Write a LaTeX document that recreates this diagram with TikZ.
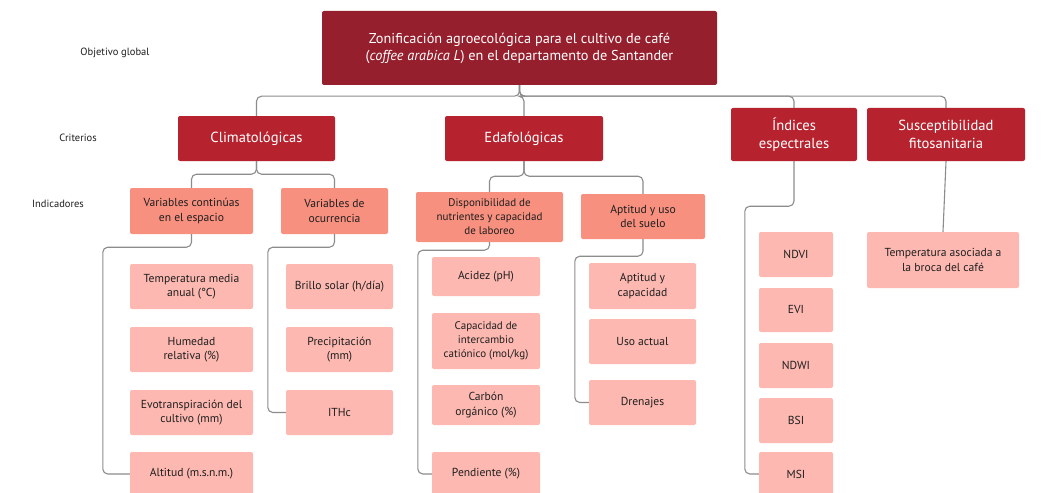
\documentclass[tikz,border=0pt]{standalone}
\usepackage{fontspec}
\setmainfont{PT Sans}
\definecolor{topred}{HTML}{961F2D}
\definecolor{crit}{HTML}{B6232F}
\definecolor{indc}{HTML}{F8907F}
\definecolor{leafc}{HTML}{FDB9B1}
\definecolor{linec}{HTML}{8C8C8C}
\definecolor{txt}{HTML}{1E1E1E}
\begin{document}
\begin{tikzpicture}[x=1pt,y=-1pt,
  every node/.style={inner sep=0pt, align=center},
  topbox/.style={fill=topred, rounded corners=2pt, text=white, font=\fontsize{14.3}{17}\selectfont},
  critbox/.style={fill=crit, rounded corners=2pt, text=white, font=\fontsize{14.6}{18}\selectfont},
  indbox/.style={fill=indc, rounded corners=2pt, text=txt, font=\fontsize{11.6}{14.5}\selectfont},
  leafbox/.style={fill=leafc, rounded corners=2pt, text=txt, font=\fontsize{11.6}{14.5}\selectfont},
  lvl/.style={text=txt, font=\fontsize{10.5}{12}\selectfont},
  conn/.style={draw=linec, line width=1.1pt, rounded corners=5pt}]
\clip (0,0) rectangle (1048,492);
\fill[white] (0,0) rectangle (1048,492);

% level labels
\node[lvl] (l1) at (115,53) {Objetivo global};
\node[lvl] (l2) at (78,138) {Criterios};
\node[lvl] (l3) at (58,204) {Indicadores};

% top
\node[topbox, minimum width=395, minimum height=74] (top) at (519.5,48)
 {Zonificación agroecológica para el cultivo de café\\(\textit{coffee arabica L}) en el departamento de Santander};

% criteria
\node[critbox, minimum width=157, minimum height=45] (clim) at (256.5,138.5) {Climatológicas};
\node[critbox, minimum width=158, minimum height=45] (edaf) at (524,138.5) {Edafológicas};
\node[critbox, minimum width=126, minimum height=53] (ind) at (794,134.5) {Índices\\espectrales};
\node[critbox, minimum width=158, minimum height=53] (susc) at (946,134.5) {Susceptibilidad\\fitosanitaria};

% indicators
\node[indbox, minimum width=123, minimum height=46] (varc) at (191.5,211) {Variables continúas\\en el espacio};
\node[indbox, minimum width=107, minimum height=46] (varo) at (334.5,211) {Variables de\\ocurrencia};
\node[indbox, minimum width=147, minimum height=50, font=\fontsize{11}{14}\selectfont] (disp) at (489.5,217) {Disponibilidad de\\nutrientes y capacidad\\de laboreo};
\node[indbox, minimum width=124, minimum height=45] (apt) at (643,216.5) {Aptitud y uso\\del suelo};

% leaves climatologicas
\node[leafbox, minimum width=123, minimum height=45] (tma) at (191.5,286.5) {Temperatura media\\anual (°C)};
\node[leafbox, minimum width=123, minimum height=45] (hum) at (191.5,349.5) {Humedad\\relativa (\%)};
\node[leafbox, minimum width=123, minimum height=45] (evo) at (191.5,412.5) {Evotranspiración del\\cultivo (mm)};
\node[leafbox, minimum width=123, minimum height=44] (alt) at (191.5,474) {Altitud (m.s.n.m.)};

\node[leafbox, minimum width=107, minimum height=45] (bri) at (339.5,286.5) {Brillo solar (h/día)};
\node[leafbox, minimum width=107, minimum height=45] (pre) at (339.5,349.5) {Precipitación\\(mm)};
\node[leafbox, minimum width=107, minimum height=45] (ithc) at (339.5,412.5) {ITHc};

% leaves edafologicas
\node[leafbox, minimum width=108, minimum height=39] (aci) at (486,276.5) {Acidez (pH)};
\node[leafbox, minimum width=108, minimum height=56, font=\fontsize{11}{14}\selectfont] (cic) at (486,341) {Capacidad de\\intercambio\\catiónico (mol/kg)};
\node[leafbox, minimum width=108, minimum height=40] (car) at (486,405) {Carbón\\orgánico (\%)};
\node[leafbox, minimum width=108, minimum height=44] (pen) at (486,474) {Pendiente (\%)};

\node[leafbox, minimum width=107, minimum height=46] (apc) at (642.5,286) {Aptitud y\\capacidad};
\node[leafbox, minimum width=107, minimum height=45] (uso) at (642.5,341.5) {Uso actual};
\node[leafbox, minimum width=107, minimum height=45] (dren) at (642.5,402.5) {Drenajes};

% leaves indices
\node[leafbox, minimum width=74, minimum height=45] (ndvi) at (796,254.5) {NDVI};
\node[leafbox, minimum width=74, minimum height=44] (evi) at (796,310) {EVI};
\node[leafbox, minimum width=74, minimum height=45] (ndwi) at (796,365.5) {NDWI};
\node[leafbox, minimum width=74, minimum height=45] (bsi) at (796,420.5) {BSI};
\node[leafbox, minimum width=74, minimum height=44] (msi) at (796,474) {MSI};

% leaf susceptibilidad
\node[leafbox, minimum width=152, minimum height=56] (temp) at (943,260) {Temperatura asociada a\\la broca del café};

% connectors top -> criteria
\draw[conn] (top.south) -- ++(0,11) -| (clim.north);
\draw[conn] (top.south) -- ++(0,11) -| (edaf.north);
\draw[conn] (top.south) -- ++(0,11) -| (ind.north);
\draw[conn] (top.south) -- ++(0,11) -| (susc.north);

% criteria -> indicators
\draw[conn] (clim.south) -- ++(0,13) -| (varc.north);
\draw[conn] (clim.south) -- ++(0,13) -| (varo.north);
\draw[conn] (edaf.south) -- ++(0,15) -| (disp.north);
\draw[conn] (edaf.south) -- ++(0,15) -| (apt.north);
\draw[conn] (ind.south) -- ++(0,45) -| ([xshift=-14pt]msi.west) -- (msi.west);
\draw[conn] (susc.south) -- (temp.north);

% indicators -> leaves (brackets)
\draw[conn] (varc.south) -- ++(0,13) -| ([xshift=-27pt]alt.west) -- (alt.west);
\draw[conn] (varo.south) -- ++(0,13) -| ([xshift=-18pt]ithc.west) -- (ithc.west);
\draw[conn] (disp.south) -- ++(0,8) -| ([xshift=-14pt]pen.west) -- (pen.west);
\draw[conn] (apt.south) -- ++(0,17) -| ([xshift=-14pt]dren.west) -- (dren.west);
\end{tikzpicture}
\end{document}
